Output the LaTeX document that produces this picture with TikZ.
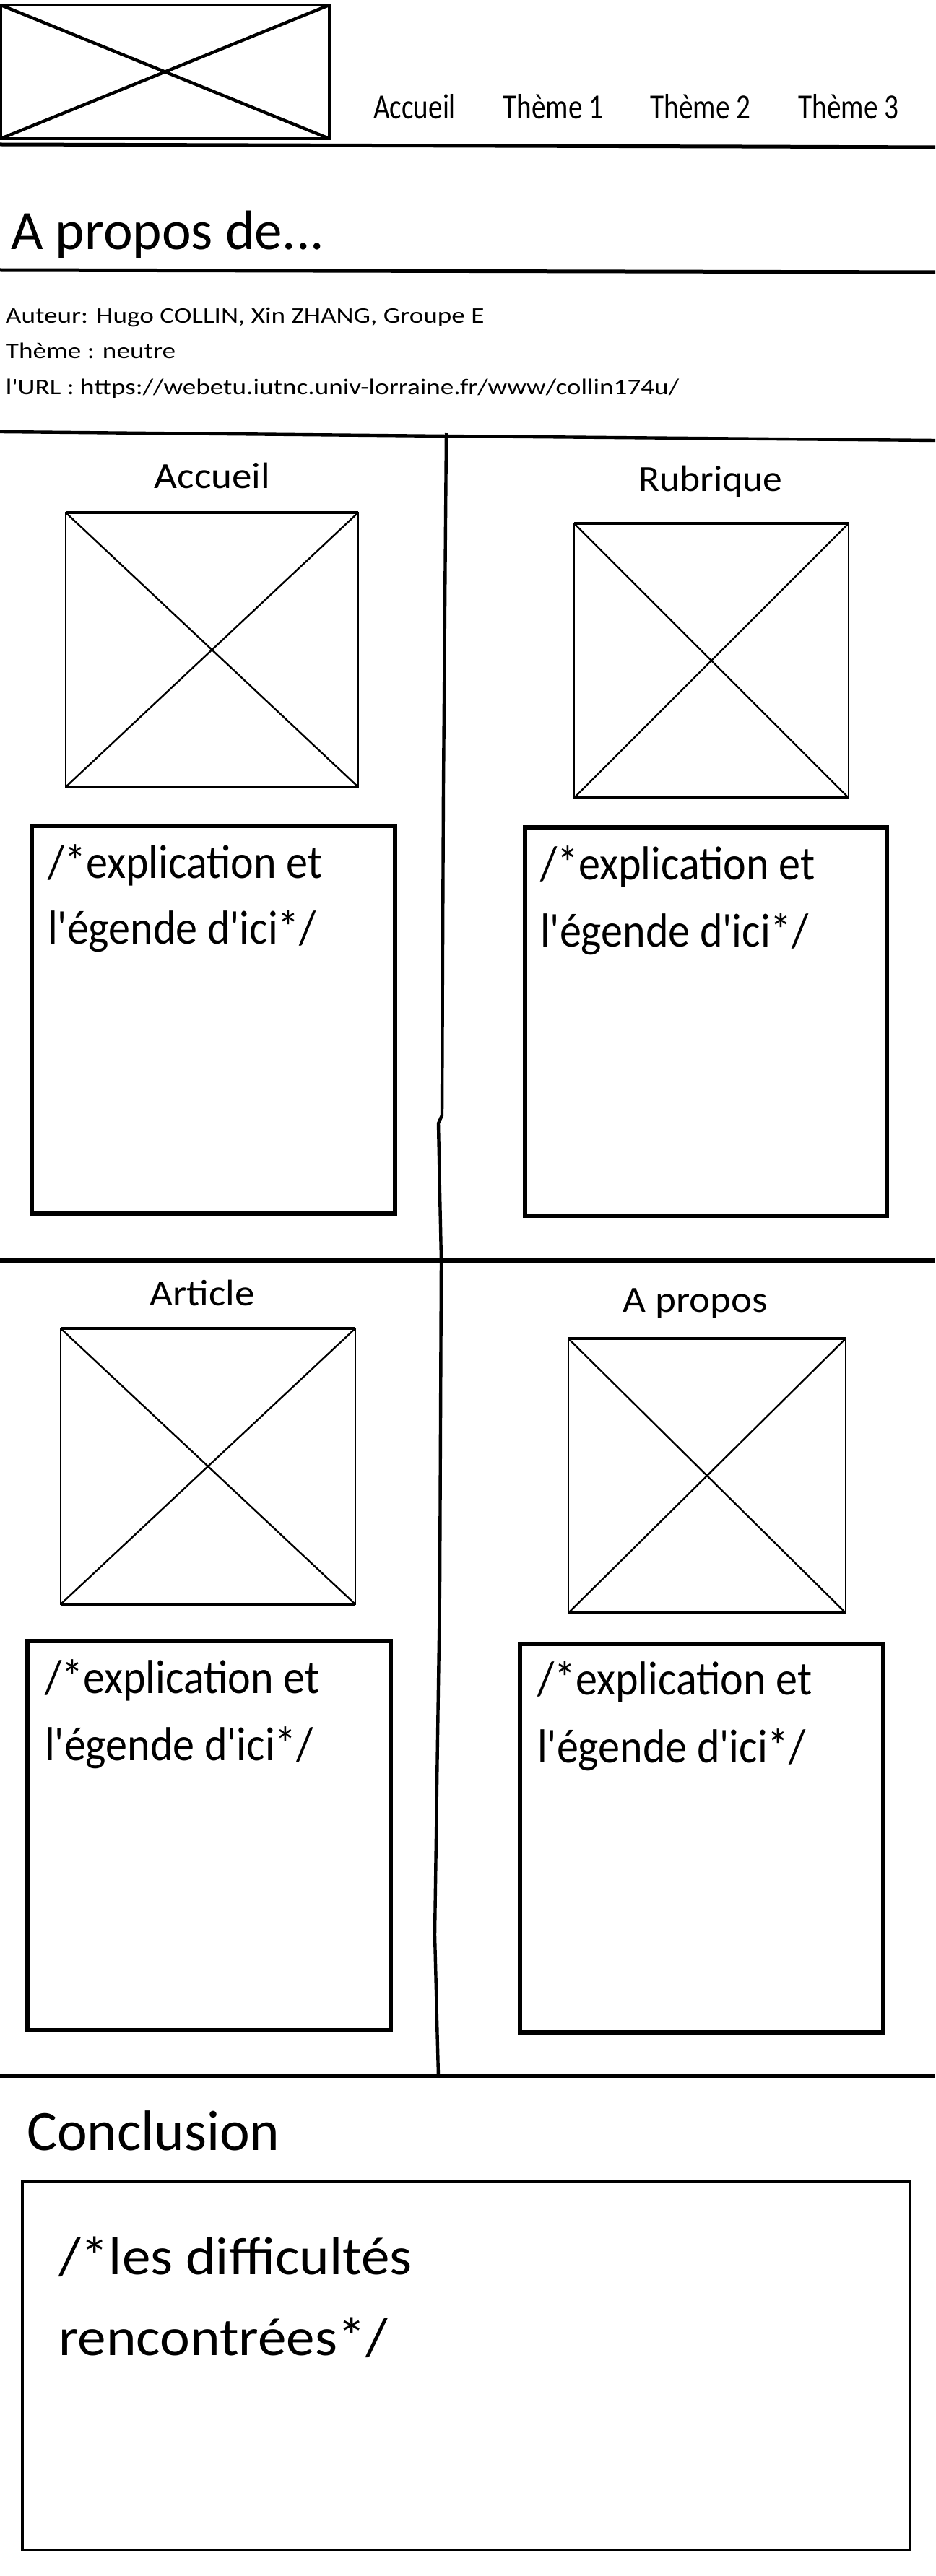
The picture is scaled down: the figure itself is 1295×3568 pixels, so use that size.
\documentclass[tikz,border=0pt]{standalone}
\usepackage{fontspec}
\setmainfont{Carlito}[Ligatures=TeXOff]
\usepackage{graphicx}
\newcommand\fsz[1]{\fontsize{#1}{#1}\selectfont}
\newcommand\imgph[4]{%
  \draw[phline] (#1,#2) rectangle (#3,#4);
  \draw[phline] (#1,#2) -- (#3,#4) (#1,#4) -- (#3,#2);
  \draw[phtop] (#1,#2) -- (#3,#2);
  \draw[phbot] (#1,#4) -- (#3,#4);}
\begin{document}
\begin{tikzpicture}[x=0.5pt,y=-0.5pt,
  every node/.style={inner sep=0pt,outer sep=0pt},
  sep/.style={line width=2.5pt},
  phline/.style={line width=1.2pt},
  phtop/.style={line width=2.4pt},
  phbot/.style={line width=1.8pt},
  tbox/.style={line width=3.3pt},
  navtxt/.style={anchor=base,font=\fsz{24.5}},
  sectxt/.style={anchor=base,font=\fsz{25.5}},
  captxt/.style={anchor=base west,font=\fsz{33}},
  infotxt/.style={anchor=base west,font=\fsz{15.5}}]
\useasboundingbox (0,0) rectangle (1295,3568);
\fill[white] (0,0) rectangle (1295,3568);

% header logo placeholder
\draw[line width=2.2pt] (1,7) rectangle (456,192);
\draw[line width=2.2pt] (1,7) -- (456,192) (1,192) -- (456,7);

% navigation
\node[navtxt] (nav1) at (574,165) {\scalebox{0.80}[1]{Accueil}};
\node[navtxt] (nav2) at (766,165) {\scalebox{0.80}[1]{Thème 1}};
\node[navtxt] (nav3) at (970,165) {\scalebox{0.80}[1]{Thème 2}};
\node[navtxt] (nav4) at (1175,165) {\scalebox{0.80}[1]{Thème 3}};

% separators
\draw[sep] (0,200) -- (1025,203) -- (1295,204);
\node[anchor=base west,font=\fsz{38.5}] (titre) at (15,346) {A propos de...};
\draw[sep] (0,374) -- (1295,377);

\node[infotxt] (auteur) at (8,448) {\scalebox{1.2}[1]{Auteur: Hugo COLLIN, Xin ZHANG, Groupe E}};
\node[infotxt] (theme) at (8,497) {\scalebox{1.2}[1]{Thème : neutre}};
\node[infotxt] (url) at (8,547) {\scalebox{1.2}[1]{l'URL : https://webetu.iutnc.univ-lorraine.fr/www/collin174u/}};

\draw[line width=2.2pt] (0,598) -- (620,604) -- (1295,610);
\draw[line width=2.2pt] (618,600) -- (614,1090) -- (612,1545) -- (607,1556) -- (611,1746) -- (609,2200) -- (602,2680) -- (607,2875);
\draw[line width=3pt] (0,1746) -- (1295,1746);
\draw[line width=2.8pt] (0,2875) -- (1295,2875);

% section 1
\node[sectxt] (s1) at (294,676) {\scalebox{1.08}[1]{Accueil}};
\node[sectxt] (s2) at (984,680) {\scalebox{1.05}[1]{Rubrique}};
\imgph{91}{710}{496}{1090}
\imgph{795}{725}{1175}{1105}
\draw[tbox] (44,1144) rectangle (547,1681);
\draw[tbox] (727,1146) rectangle (1228,1684);
\node[captxt] (c1a) at (66,1216) {\scalebox{0.91}[1]{/*explication et}};
\node[captxt] (c1b) at (66,1307) {\scalebox{0.91}[1]{l'égende d'ici*/}};
\node[captxt] (c2a) at (748,1218) {\scalebox{0.91}[1]{/*explication et}};
\node[captxt] (c2b) at (748,1311) {\scalebox{0.91}[1]{l'égende d'ici*/}};

% section 2
\node[sectxt] (s3) at (280,1808) {\scalebox{1.08}[1]{Article}};
\node[sectxt] (s4) at (963,1817) {\scalebox{1.08}[1]{A propos}};
\imgph{84}{1840}{492}{2222}
\imgph{787}{1854}{1171}{2234}
\draw[tbox] (38,2273) rectangle (541,2812);
\draw[tbox] (720,2277) rectangle (1223,2815);
\node[captxt] (c3a) at (62,2345) {\scalebox{0.91}[1]{/*explication et}};
\node[captxt] (c3b) at (62,2438) {\scalebox{0.91}[1]{l'égende d'ici*/}};
\node[captxt] (c4a) at (744,2347) {\scalebox{0.91}[1]{/*explication et}};
\node[captxt] (c4b) at (744,2441) {\scalebox{0.91}[1]{l'égende d'ici*/}};

% conclusion
\node[anchor=base west,font=\fsz{39.5}] (concl) at (37,2978) {Conclusion};
\draw[line width=2pt] (31,3021) rectangle (1260,3532);
\node[anchor=base west,font=\fsz{37}] (k1) at (81,3150) {\scalebox{1.07}[1]{/*les difficultés}};
\node[anchor=base west,font=\fsz{37}] (k2) at (81,3262) {\scalebox{1.07}[1]{rencontrées*/}};
\end{tikzpicture}
\end{document}
